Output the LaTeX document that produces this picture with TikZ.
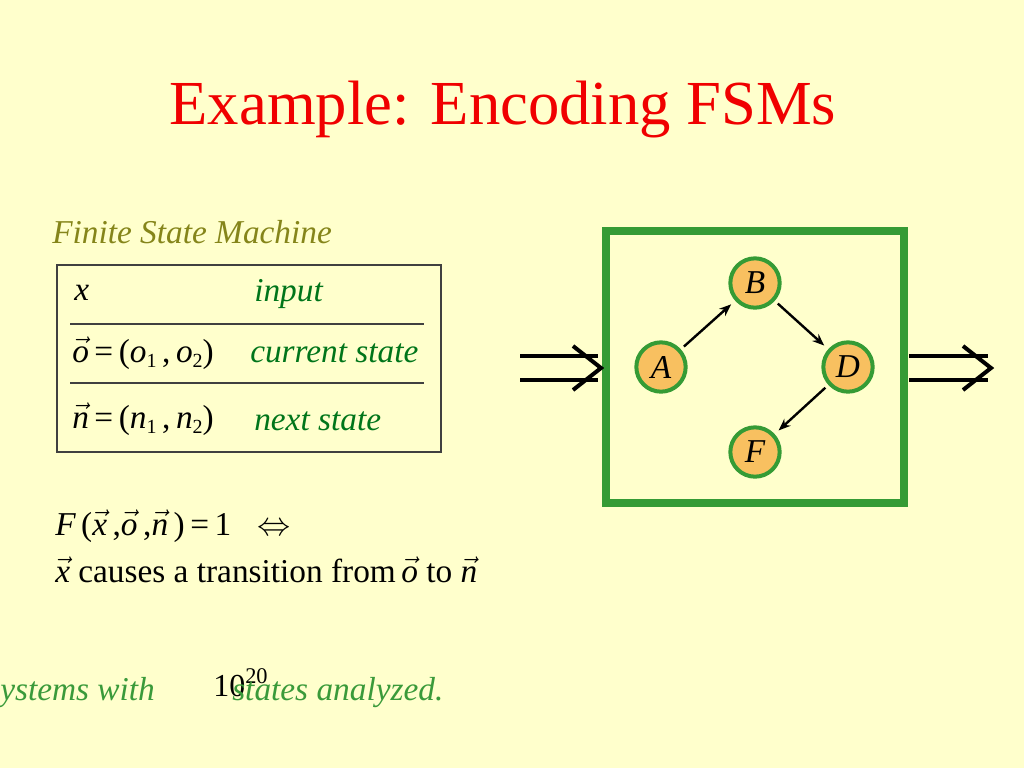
\documentclass[tikz,border=0pt]{standalone}
\usepackage{fontspec}
\setmainfont{Liberation Serif}
\usetikzlibrary{arrows.meta}
\definecolor{bg}{HTML}{FFFFCC}
\definecolor{titlered}{HTML}{F00000}
\definecolor{olive}{HTML}{85851A}
\definecolor{dkgreen}{HTML}{00751A}
\definecolor{ltgreen}{HTML}{3A9A3A}
\definecolor{boxgreen}{HTML}{359B35}
\definecolor{statefill}{HTML}{F8C060}
\newcommand\vx[1]{$\vec{\mbox{\itshape #1}}$}
\newcommand\sbx[1]{\raisebox{-0.35ex}{\fontsize{15}{15}\selectfont #1}}
\tikzset{
  body/.style={font=\fontsize{25}{30}\selectfont, inner sep=0pt, anchor=base west},
  state/.style={circle, draw=boxgreen, line width=3pt, fill=statefill, minimum size=37pt, inner sep=0pt, font=\fontsize{25}{30}\selectfont\itshape},
  trans/.style={-{Stealth[length=9pt,width=7pt]}, line width=1.8pt, shorten <=3pt, shorten >=4pt},
  dbl/.style={line width=3pt},
}
\begin{document}
\begin{tikzpicture}[x=0.75pt, y=-0.75pt]
\fill[bg] (0,0) rectangle (1024,768);
\useasboundingbox (0,0) rectangle (1024,768);
% title
\node[font=\fontsize{47}{56}\selectfont, text=titlered, inner sep=0pt, anchor=base] (title) at (503,124) {Example: Encoding FSMs};
% FSM label
\node[body, text=olive, font=\fontsize{25}{30}\selectfont\itshape] (fsm) at (52,243) {Finite State Machine};
% table
\draw[line width=0.8pt, draw=black!75] (57,265) rectangle (441,452);
\draw[line width=0.8pt, draw=black!75] (70,324) -- (424,324);
\draw[line width=0.8pt, draw=black!75] (70,383) -- (424,383);
\node[body, font=\fontsize{25}{30}\selectfont\itshape] (xsym) at (74,300) {x};
\node[body, text=dkgreen, font=\fontsize{25}{30}\selectfont\itshape] (inp) at (254,301) {input};
\node[body] (ovec) at (72,362) {\vx{o}\,=\,({\itshape o}\sbx{1}\,,\,{\itshape o}\sbx{2})};
\node[body, text=dkgreen, font=\fontsize{25}{30}\selectfont\itshape] (cur) at (250,362) {current state};
\node[body] (nvec) at (72,428) {\vx{n}\,=\,({\itshape n}\sbx{1}\,,\,{\itshape n}\sbx{2})};
\node[body, text=dkgreen, font=\fontsize{25}{30}\selectfont\itshape] (nxt) at (254,430) {next state};
% equations
\node[body] (eq) at (55,535) {{\itshape F}\,(\vx{x}\,,\vx{o}\,,\vx{n}\,)\,=\,1};
\node[body] (iff) at (257,535) {$\Leftrightarrow$};
\node[body] (cause) at (55,582) {\vx{x} causes a transition from\,\vx{o} to \vx{n}};
% bottom
\node[body, text=ltgreen, font=\fontsize{25}{30}\selectfont\itshape] (sys) at (0,700) {ystems with};
\node[body, font=\fontsize{24}{28}\selectfont] (ten) at (213,696) {10\textsuperscript{20}};
\node[body, text=ltgreen, font=\fontsize{25}{30}\selectfont\itshape] (st) at (232,700) {states analyzed.};
% green box
\draw[boxgreen, line width=6pt] (606,231) rectangle (904,503);
% states
\node[state] (A) at (661,367) {A};
\node[state] (B) at (755,283) {B};
\node[state] (D) at (848,367) {D};
\node[state] (F) at (755,452) {F};
\draw[trans] (A) -- (B);
\draw[trans] (B) -- (D);
\draw[trans] (D) -- (F);
% double arrows
\draw[dbl] (520,356) -- (598,356) (520,380) -- (598,380);
\draw[dbl, line join=miter] (573,346) -- (601,368) -- (573,390);
\draw[dbl] (909,356) -- (988,356) (909,380) -- (988,380);
\draw[dbl, line join=miter] (963,346) -- (991,368) -- (963,390);
\end{tikzpicture}
\end{document}
